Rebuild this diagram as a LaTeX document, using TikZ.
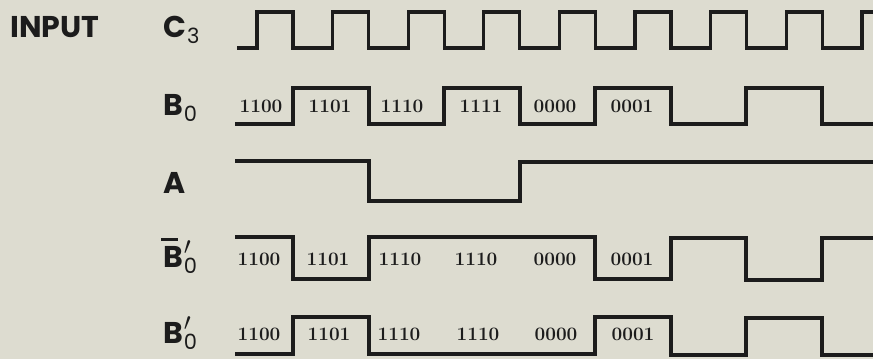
\documentclass[tikz,border=0pt]{standalone}
\usepackage{fontspec}
\setsansfont{Poppins}
\definecolor{paper}{RGB}{221,220,208}
\definecolor{ink}{RGB}{28,28,28}
\newcommand{\lsub}[1]{\raisebox{-6pt}{\mdseries\fontsize{21}{21}\selectfont#1}}
\newcommand{\lpr}{\raisebox{13pt}{\fontsize{27}{27}\selectfont$\prime$}}
\newcommand{\lbar}{\rlap{\hspace{-2pt}\rule[26.5pt]{17pt}{3pt}}}
\tikzset{
    wave/.style={draw=ink, line width=3.3pt},
    lbl/.style={anchor=base west, inner sep=0pt, text=ink, font=\sffamily\bfseries\fontsize{30}{32}\selectfont},
    num/.style={inner sep=0pt, text=ink, font=\bfseries\fontsize{19}{22}\selectfont}
}

\begin{document}
\begin{tikzpicture}[x=1pt, y=-1pt]
        \fill[paper] (0,0) rectangle (873,359);
        \useasboundingbox (0,0) rectangle (873,359);
        % labels
        \node[lbl] (input) at (10,37) {INPUT};
        \node[lbl] (c3) at (163,37) {C\kern1pt\lsub{3}};
        \node[lbl] (b0) at (163,115) {B\kern1pt\lsub{0}};
        \node[lbl] (a) at (163,193) {A};
        \node[lbl] (b0bar) at (163,267) {\lbar B\kern1pt\rlap{\lsub{0}}\lpr};
        \node[lbl] (b0p) at (163,343) {B\kern1pt\rlap{\lsub{0}}\lpr};
        % clock
        \draw[wave] (237,48) foreach \k in {0,...,7} {
            -- ({257+75.6*\k},48) -- ({257+75.6*\k},12) -- ({293+75.6*\k},12) -- ({293+75.6*\k},48)
        } -- (862,48) -- (862,12) -- (873,12);
        % counter stage
        \draw[wave] (235,124) -- (293,124) -- (293,88) -- (369,88) -- (369,124) -- (444,124) -- (444,88)
            -- (520,88) -- (520,124) -- (595,124) -- (595,88) -- (671,88) -- (671,124) -- (746,124)
            -- (746,88) -- (822,88) -- (822,124) -- (873,124);
        \draw[wave] (235,161) -- (369,161) -- (369,201) -- (520,201) -- (520,162) -- (873,162);
        \draw[wave] (235,237) -- (293,237) -- (293,279) -- (369,279) -- (369,237) -- (595,237) -- (595,279)
            -- (671,279) -- (671,238) -- (746,238) -- (746,280) -- (822,280) -- (822,238) -- (873,238);
        \draw[wave] (235,354) -- (293,354) -- (293,317) -- (369,317) -- (369,354) -- (595,354) -- (595,317)
            -- (671,317) -- (671,355) -- (746,355) -- (746,318) -- (822,318) -- (822,355) -- (873,355);
        % states
        \foreach \x/\t [count=\i] in {261/1100, 330/1101, 402/1110, 481/1111, 555/0000, 632/0001}
            \node[num] (sb\i) at (\x,106) {\t};
        \foreach \x/\t [count=\i] in {259/1100, 328/1101, 400/1110, 476/1110, 555/0000, 632/0001}
            \node[num] (sn\i) at (\x,259) {\t};
        \foreach \x/\t [count=\i] in {259/1100, 329/1101, 399/1110, 478/1110, 556/0000, 633/0001}
            \node[num] (sp\i) at (\x,334) {\t};
    \end{tikzpicture}
\end{document}
